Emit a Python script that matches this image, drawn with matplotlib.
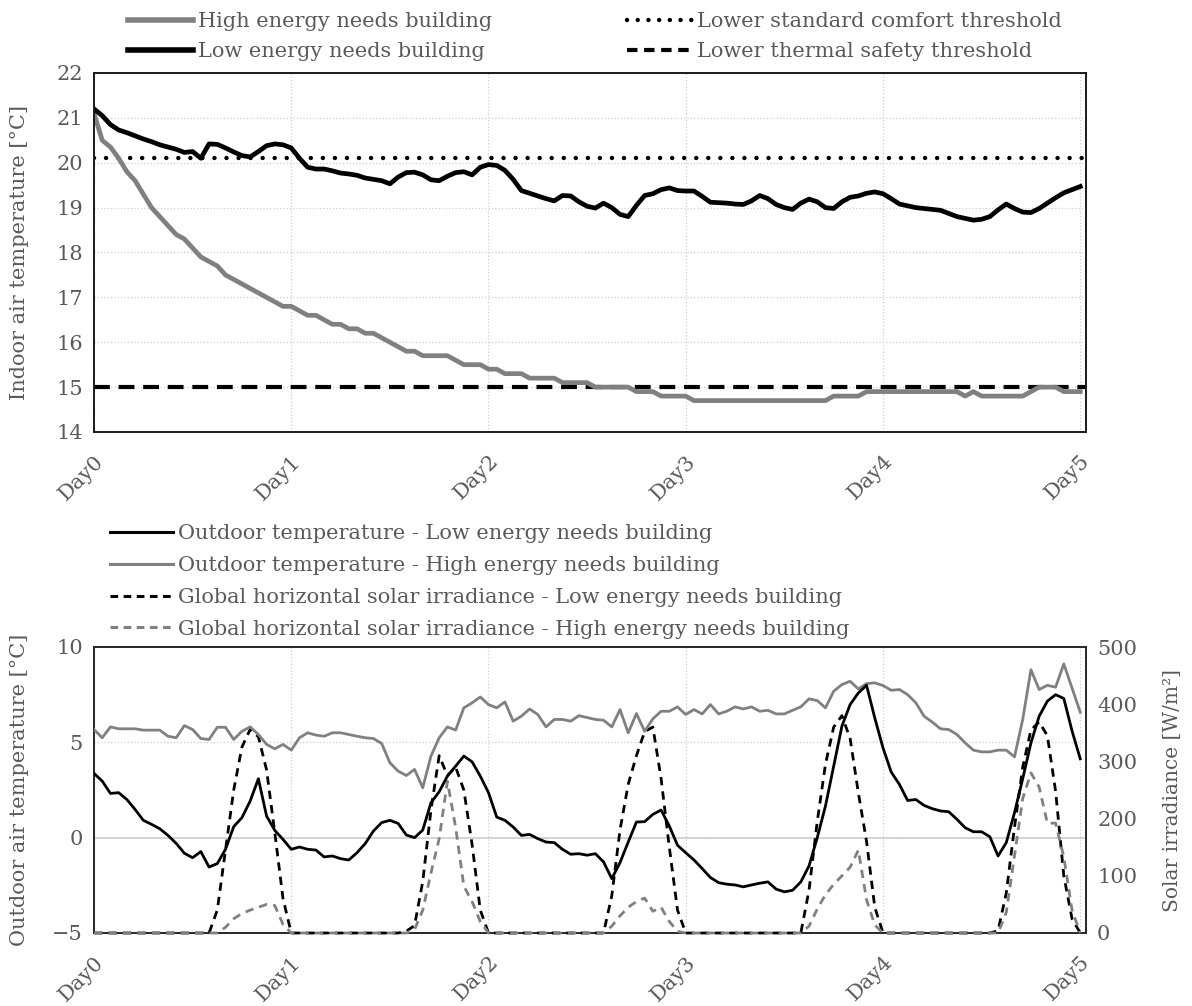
import numpy as np
from matplotlib import pyplot as plt
from matplotlib.lines import Line2D
from matplotlib.transforms import ScaledTranslation

plt.rcParams["font.family"] = ["DejaVu Serif"]

TEXT = "#595959"
GREY = "#808080"

day_labels = ["Day0", "Day1", "Day2", "Day3", "Day4", "Day5"]

# indoor air temperature, hourly, 5 days
indoor_low = [
    21.2, 21.05, 20.85, 20.73, 20.67, 20.6, 20.53, 20.47, 20.4, 20.35,
    20.3, 20.23, 20.25, 20.1, 20.42, 20.41, 20.33, 20.24, 20.16, 20.13,
    20.25, 20.38, 20.42, 20.4, 20.33, 20.1, 19.9, 19.86, 19.86, 19.82,
    19.77, 19.75, 19.72, 19.66, 19.63, 19.6, 19.53, 19.68, 19.78, 19.79,
    19.73, 19.62, 19.6, 19.7, 19.78, 19.8, 19.73, 19.9, 19.96, 19.94,
    19.83, 19.63, 19.38, 19.32, 19.26, 19.2, 19.15, 19.27, 19.26, 19.13,
    19.03, 18.99, 19.1, 19.0, 18.85, 18.8, 19.05, 19.27, 19.31, 19.4,
    19.44, 19.38, 19.37, 19.37, 19.25, 19.12, 19.11, 19.1, 19.08, 19.07,
    19.15, 19.27, 19.2, 19.07, 19.0, 18.96, 19.1, 19.19, 19.13, 19.0,
    18.98, 19.13, 19.23, 19.26, 19.32, 19.35, 19.31, 19.2, 19.08, 19.04,
    19.0, 18.98, 18.96, 18.94, 18.87, 18.8, 18.76, 18.72, 18.74, 18.8,
    18.95, 19.08, 18.98, 18.9, 18.89, 18.98, 19.1, 19.22, 19.33, 19.4,
    19.47,
]
indoor_high = [
    21.1, 20.5, 20.35, 20.1, 19.8, 19.6, 19.3, 19.0, 18.8, 18.6,
    18.4, 18.3, 18.1, 17.9, 17.8, 17.7, 17.5, 17.4, 17.3, 17.2,
    17.1, 17.0, 16.9, 16.8, 16.8, 16.7, 16.6, 16.6, 16.5, 16.4,
    16.4, 16.3, 16.3, 16.2, 16.2, 16.1, 16.0, 15.9, 15.8, 15.8,
    15.7, 15.7, 15.7, 15.7, 15.6, 15.5, 15.5, 15.5, 15.4, 15.4,
    15.3, 15.3, 15.3, 15.2, 15.2, 15.2, 15.2, 15.1, 15.1, 15.1,
    15.1, 15.0, 15.0, 15.0, 15.0, 15.0, 14.9, 14.9, 14.9, 14.8,
    14.8, 14.8, 14.8, 14.7, 14.7, 14.7, 14.7, 14.7, 14.7, 14.7,
    14.7, 14.7, 14.7, 14.7, 14.7, 14.7, 14.7, 14.7, 14.7, 14.7,
    14.8, 14.8, 14.8, 14.8, 14.9, 14.9, 14.9, 14.9, 14.9, 14.9,
    14.9, 14.9, 14.9, 14.9, 14.9, 14.9, 14.8, 14.9, 14.8, 14.8,
    14.8, 14.8, 14.8, 14.8, 14.9, 15.0, 15.0, 15.0, 14.9, 14.9,
    14.9,
]
comfort_threshold = 20.1
safety_threshold = 15.0

# outdoor air temperature, hourly
outdoor_low = [
    3.37, 2.97, 2.32, 2.36, 2.0, 1.48, 0.91, 0.7, 0.47, 0.12,
    -0.3, -0.82, -1.05, -0.73, -1.54, -1.36, -0.61, 0.58, 1.05, 1.92,
    3.09, 1.13, 0.38, -0.09, -0.61, -0.49, -0.61, -0.65, -1.01, -0.96,
    -1.1, -1.17, -0.79, -0.31, 0.35, 0.79, 0.91, 0.75, 0.14, 0.0,
    0.4, 1.83, 2.41, 3.23, 3.75, 4.28, 3.98, 3.23, 2.36, 1.08,
    0.91, 0.56, 0.12, 0.17, -0.05, -0.23, -0.26, -0.61, -0.87, -0.84,
    -0.92, -0.84, -1.27, -2.15, -1.31, -0.23, 0.82, 0.84, 1.22, 1.45,
    0.61, -0.4, -0.79, -1.17, -1.62, -2.09, -2.36, -2.44, -2.48, -2.58,
    -2.48, -2.39, -2.32, -2.7, -2.84, -2.76, -2.32, -1.48, 0.0, 1.66,
    3.75, 5.85, 6.98, 7.59, 7.99, 6.28, 4.71, 3.44, 2.79, 1.95,
    2.0, 1.69, 1.52, 1.4, 1.36, 0.96, 0.52, 0.31, 0.31, 0.05,
    -0.96, -0.26, 1.31, 3.09, 4.97, 6.37, 7.16, 7.5, 7.3, 5.6,
    4.14,
]
outdoor_high = [
    5.67, 5.24, 5.81, 5.71, 5.71, 5.71, 5.64, 5.64, 5.64, 5.32,
    5.24, 5.88, 5.67, 5.2, 5.15, 5.79, 5.79, 5.15, 5.58, 5.81,
    5.41, 4.89, 4.66, 4.89, 4.59, 5.24, 5.5, 5.38, 5.32, 5.5,
    5.5, 5.41, 5.32, 5.24, 5.2, 4.94, 3.93, 3.49, 3.26, 3.58,
    2.62, 4.28, 5.24, 5.81, 5.64, 6.81, 7.07, 7.38, 6.98, 6.81,
    7.12, 6.11, 6.37, 6.75, 6.46, 5.81, 6.2, 6.2, 6.11, 6.4,
    6.3, 6.2, 6.16, 5.81, 6.72, 5.5, 6.51, 5.58, 6.23, 6.63,
    6.63, 6.86, 6.46, 6.72, 6.49, 6.98, 6.49, 6.63, 6.86, 6.75,
    6.86, 6.63, 6.68, 6.49, 6.49, 6.68, 6.86, 7.28, 7.19, 6.81,
    7.68, 8.03, 8.2, 7.8, 8.08, 8.12, 7.98, 7.73, 7.77, 7.5,
    7.07, 6.37, 6.06, 5.71, 5.67, 5.41, 4.97, 4.59, 4.5, 4.5,
    4.59, 4.59, 4.24, 6.2, 8.81, 7.77, 7.99, 7.89, 9.11, 7.85,
    6.58,
]

# global horizontal solar irradiance [W/m2], hourly (one row per day)
solar_low = [
    0, 0, 0, 0, 0, 0, 0, 0, 0, 0, 0, 0, 0, 0, 0, 40, 145, 250, 325, 356, 343, 285, 175, 60,
    0, 0, 0, 0, 0, 0, 0, 0, 0, 0, 0, 0, 0, 0, 3, 13, 90, 215, 310, 275, 290, 250, 155, 40,
    0, 0, 0, 0, 0, 0, 0, 0, 0, 0, 0, 0, 0, 0, 0, 65, 180, 260, 310, 352, 360, 270, 150, 40,
    0, 0, 0, 0, 0, 0, 0, 0, 0, 0, 0, 0, 0, 0, 0, 75, 195, 295, 360, 380, 340, 245, 160, 45,
    0, 0, 0, 0, 0, 0, 0, 0, 0, 0, 0, 0, 0, 0, 4, 70, 185, 290, 355, 369, 345, 248, 100, 25,
    0,
]
solar_high = [
    0, 0, 0, 0, 0, 0, 0, 0, 0, 0, 0, 0, 0, 0, 0, 0, 10, 25, 34, 40, 45, 50, 48, 15,
    0, 0, 0, 0, 0, 0, 0, 0, 0, 0, 0, 0, 0, 0, 0, 6, 40, 105, 165, 265, 185, 82, 55, 20,
    0, 0, 0, 0, 0, 0, 0, 0, 0, 0, 0, 0, 0, 0, 0, 12, 30, 45, 55, 61, 38, 45, 20, 3,
    0, 0, 0, 0, 0, 0, 0, 0, 0, 0, 0, 0, 0, 0, 0, 12, 42, 67, 85, 100, 115, 145, 58, 14,
    0, 0, 0, 0, 0, 0, 0, 0, 0, 0, 0, 0, 0, 0, 0, 36, 135, 235, 280, 255, 192, 192, 133, 40,
    0,
]

hours = np.arange(len(indoor_low))
day_ticks = np.arange(0, 121, 24)

W, H = 1192, 1006
fig = plt.figure(figsize=(W / 100, H / 100), dpi=100)
nudge = ScaledTranslation(7 / 100, 0, fig.dpi_scale_trans)


def style_axis(ax, spine_color):
    ax.set_xlim(0, 120.7)
    ax.set_xticks(day_ticks)
    ax.set_xticklabels(day_labels, rotation=45, ha="right", va="top", rotation_mode="anchor")
    for lab in ax.get_xticklabels():
        lab.set_transform(lab.get_transform() + nudge)
    ax.tick_params(length=0, labelsize=15, labelcolor=TEXT, pad=8)
    ax.tick_params(axis="x", pad=14)
    ax.grid(color="#cfcfcf", linestyle=":", linewidth=0.9)
    ax.set_axisbelow(True)
    for s in ax.spines.values():
        s.set_color(spine_color)
        s.set_linewidth(1.4)


# ---- top: indoor temperature ----
ax1 = fig.add_axes([94 / W, 1 - 432 / H, 992 / W, 359 / H])
style_axis(ax1, "#1a1a1a")
ax1.set_ylim(14, 22)
ax1.set_yticks(range(14, 23))
ax1.axhline(comfort_threshold, color="black", lw=3.2, ls=(0, (0.01, 2.7)), dash_capstyle="round")
ax1.axhline(safety_threshold, color="black", lw=3.0, ls=(0, (3.8, 2.1)))
ax1.plot(hours, indoor_high, color=GREY, lw=3.4)
ax1.plot(hours, indoor_low, color="black", lw=3.4)
ax1.set_ylabel("Indoor air temperature [°C]", fontsize=15, color=TEXT)
ax1.yaxis.set_label_coords(-0.066, 0.5)

top_handles = [
    Line2D([], [], color=GREY, lw=4),
    Line2D([], [], color="black", lw=4),
    Line2D([], [], color="black", lw=3.2, ls=(0, (0.01, 2.4)), dash_capstyle="round"),
    Line2D([], [], color="black", lw=3.0, ls=(0, (2.5, 1.6))),
]
top_labels = ["High energy needs building", "Low energy needs building",
              "Lower standard comfort threshold", "Lower thermal safety threshold"]
fig.legend(top_handles, top_labels, loc="upper left", bbox_to_anchor=(128 / W, 1 - 12 / H),
           ncol=2, frameon=False, fontsize=15, labelcolor=TEXT, handlelength=3.1,
           handletextpad=0.25, columnspacing=6.5, labelspacing=0.55, borderpad=0, borderaxespad=0)

# ---- bottom: outdoor temperature and solar irradiance ----
ax2 = fig.add_axes([94 / W, 1 - 933 / H, 992 / W, 286 / H])
style_axis(ax2, "#262626")
ax2.set_ylim(-5, 10)
ax2.set_yticks([-5, 0, 5, 10])
ax2.axhline(0, color="#d0d0d0", lw=1.2, zorder=0.5)
ax2.set_ylabel("Outdoor air temperature [°C]", fontsize=15, color=TEXT)
ax2.yaxis.set_label_coords(-0.066, 0.5)

ax3 = ax2.twinx()
ax3.set_ylim(0, 500)
ax3.set_yticks(range(0, 501, 100))
ax3.tick_params(length=0, labelsize=15, labelcolor=TEXT, pad=8)
for s in ax3.spines.values():
    s.set_visible(False)
ax3.set_ylabel("Solar irradiance [W/m²]", fontsize=14.5, color=TEXT)
ax3.yaxis.set_label_coords(1.078, 0.5)

ax3.plot(hours, solar_low, color="black", lw=2.0, ls=(0, (3, 2.2)), clip_on=False)
ax3.plot(hours, solar_high, color=GREY, lw=2.0, ls=(0, (3, 2.2)), clip_on=False)
# outdoor temperatures are drawn on the left scale (-5..10 maps onto 0..500)
ax3.plot(hours, (np.array(outdoor_high) + 5) * 500 / 15, color=GREY, lw=2.0)
ax3.plot(hours, (np.array(outdoor_low) + 5) * 500 / 15, color="black", lw=2.0)

bottom_handles = [
    Line2D([], [], color="black", lw=2.2),
    Line2D([], [], color=GREY, lw=2.2),
    Line2D([], [], color="black", lw=2.2, ls=(0, (2.5, 1.8))),
    Line2D([], [], color=GREY, lw=2.2, ls=(0, (2.5, 1.8))),
]
bottom_labels = ["Outdoor temperature - Low energy needs building",
                 "Outdoor temperature - High energy needs building",
                 "Global horizontal solar irradiance - Low energy needs building",
                 "Global horizontal solar irradiance - High energy needs building"]
fig.legend(bottom_handles, bottom_labels, loc="upper left", bbox_to_anchor=(110 / W, 1 - 524 / H),
           ncol=1, frameon=False, fontsize=15, labelcolor=TEXT, handlelength=3.0,
           handletextpad=0.25, labelspacing=0.62, borderpad=0, borderaxespad=0)

fig.savefig("out.png", dpi=100)
